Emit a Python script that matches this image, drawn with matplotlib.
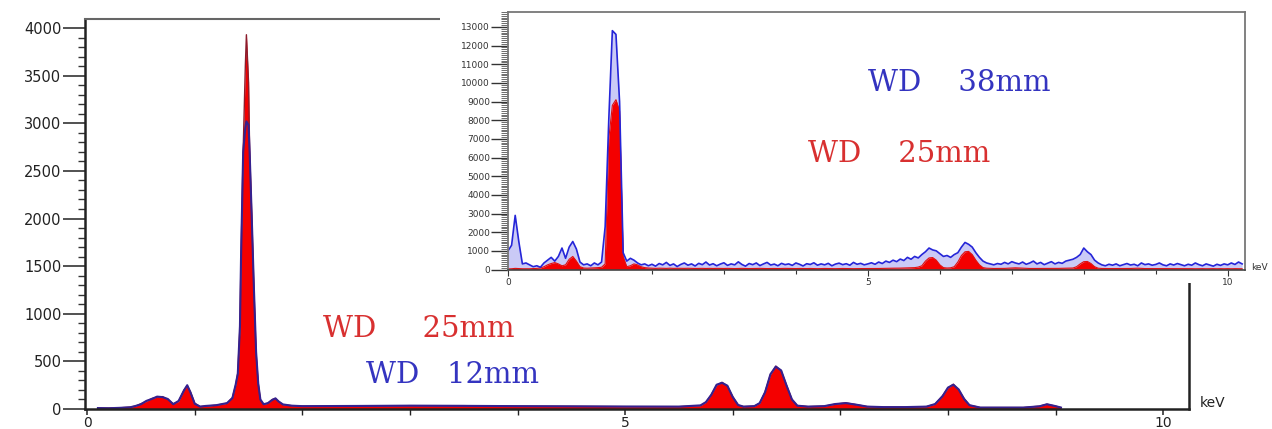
import numpy as np
import matplotlib.pyplot as plt
from matplotlib.ticker import MultipleLocator
from matplotlib.patches import Rectangle

# main spectrum: energy (keV) and counts for the two working distances
main_kev = [0.10, 0.20, 0.30, 0.40, 0.45, 0.50, 0.55, 0.60, 0.65, 0.70,
            0.75, 0.80, 0.85, 0.90, 0.93, 0.96, 1.00, 1.05, 1.10, 1.20,
            1.30, 1.35, 1.38, 1.40, 1.42, 1.43, 1.45, 1.47, 1.48, 1.50,
            1.51, 1.53, 1.55, 1.57, 1.59, 1.61, 1.64, 1.68, 1.72, 1.75,
            1.78, 1.82, 1.90, 2.00, 2.50, 3.00, 3.50, 4.00, 4.50, 5.00,
            5.50, 5.70, 5.75, 5.80, 5.85, 5.90, 5.95, 6.00, 6.05, 6.10,
            6.20, 6.25, 6.30, 6.35, 6.40, 6.45, 6.50, 6.55, 6.60, 6.70,
            6.85, 6.95, 7.05, 7.15, 7.25, 7.40, 7.60, 7.80, 7.88, 7.95,
            8.00, 8.05, 8.10, 8.15, 8.20, 8.30, 8.50, 8.70, 8.85, 8.92,
            9.00, 9.05]
main_wd25 = [10, 10, 12, 20, 30, 55, 80, 110, 125, 130,
             100, 55, 80, 200, 245, 180, 60, 25, 30, 40,
             60, 120, 250, 380, 860, 1600, 2720, 3600, 3930, 3430,
             2720, 2020, 1250, 590, 270, 95, 50, 60, 100, 110,
             80, 45, 35, 30, 30, 35, 35, 30, 28, 25,
             25, 35, 70, 150, 250, 280, 240, 130, 40, 25,
             30, 60, 180, 360, 450, 400, 250, 100, 35, 25,
             30, 50, 65, 45, 25, 20, 20, 25, 50, 140,
             220, 260, 200, 110, 40, 15, 15, 15, 30, 50,
             30, 15]
main_wd12 = [10, 8, 12, 18, 32, 50, 85, 105, 130, 125,
             105, 50, 85, 195, 250, 175, 55, 25, 32, 40,
             62, 115, 255, 370, 870, 1580, 2700, 2950, 3020, 2980,
             2700, 2000, 1260, 600, 265, 100, 50, 62, 95, 112,
             78, 48, 35, 30, 32, 35, 33, 30, 28, 26,
             25, 38, 72, 148, 255, 275, 245, 125, 42, 25,
             30, 62, 175, 365, 445, 405, 245, 100, 35, 25,
             30, 52, 62, 45, 25, 20, 20, 25, 52, 135,
             225, 255, 205, 105, 40, 15, 15, 15, 28, 50,
             30, 15]

# inset spectrum: channels every 0.05 keV, one row per keV
inset_step = 0.05
inset_wd38 = [
    1000, 1300, 2900, 1500, 300, 350, 250, 150, 200, 120, 350, 500, 650, 450, 700, 1150, 600, 1200, 1500, 1100,
    400, 250, 300, 200, 350, 250, 400, 2300, 8000, 12800, 12600, 9000, 900, 450, 600, 500, 350, 250, 300, 200,
    280, 180, 320, 250, 380, 220, 300, 160, 270, 350, 230, 300, 190, 330, 260, 400, 240, 310, 200, 290,
    360, 220, 300, 250, 410, 270, 180, 320, 260, 350, 210, 300, 380, 240, 290, 200, 330, 260, 300, 220,
    350, 280, 190, 310, 270, 360, 230, 300, 250, 330, 200, 290, 340, 260, 310, 230, 380, 280, 330, 250,
    300, 360, 280, 400, 320, 450, 380, 500, 420, 560, 480, 650, 550, 700, 620, 800, 950, 1150, 1050, 1000,
    850, 700, 750, 650, 800, 900, 1200, 1450, 1350, 1200, 900, 650, 450, 350, 300, 250, 320, 280, 380, 300,
    420, 350, 300, 400, 280, 350, 450, 300, 380, 260, 340, 420, 300, 380, 330, 450, 500, 550, 650, 800,
    1150, 950, 800, 500, 350, 250, 200, 280, 230, 300, 200, 260, 320, 240, 280, 200, 350, 260, 300, 230,
    270, 350, 250, 200, 300, 240, 320, 260, 200, 280, 230, 350, 260, 200, 300, 240, 180, 280, 220, 300,
    250, 350, 270, 400, 300]
inset_wd25 = [
    30, 40, 60, 50, 40, 40, 40, 50, 60, 80, 150, 250, 320, 370, 300, 200, 250, 550, 700, 450,
    150, 80, 70, 80, 90, 100, 120, 300, 7000, 8800, 9100, 8500, 700, 150, 200, 300, 250, 150, 100, 80,
    70, 60, 70, 65, 60, 70, 60, 65, 60, 60, 65, 60, 55, 60, 60, 55, 60, 55, 60, 55,
    55, 60, 55, 50, 55, 60, 55, 50, 55, 55, 60, 55, 50, 55, 55, 50, 55, 60, 55, 50,
    50, 55, 50, 50, 55, 50, 45, 50, 55, 50, 50, 45, 50, 55, 50, 50, 45, 50, 50, 50,
    50, 50, 55, 55, 60, 60, 65, 70, 70, 75, 80, 85, 90, 100, 130, 200, 450, 620, 640, 500,
    250, 100, 80, 90, 150, 400, 750, 950, 970, 800, 500, 250, 100, 70, 60, 55, 55, 60, 60, 70,
    80, 90, 80, 70, 60, 55, 55, 55, 55, 55, 55, 55, 60, 60, 65, 70, 75, 80, 150, 300,
    420, 430, 320, 150, 70, 55, 50, 50, 50, 50, 50, 50, 50, 55, 60, 70, 60, 50, 50, 50,
    50, 45, 50, 45, 45, 50, 45, 45, 50, 45, 45, 40, 45, 45, 40, 45, 45, 40, 45, 40,
    45, 40, 45, 40, 40]

W, H = 1272, 429
fig = plt.figure(figsize=(W / 100, H / 100), dpi=100)

# ---- main chart ----
ax = fig.add_axes([85 / W, (H - 409) / H, (1189 - 85) / W, (409 - 19) / H])
ax.fill_between(main_kev, main_wd25, color='#f40000', lw=0)
ax.plot(main_kev, main_wd25, color='#8c1c2c', lw=1.0)
ax.plot(main_kev, main_wd12, color='#35218f', lw=1.5)
ax.set_xlim(-0.02, 10.24)
ax.set_ylim(0, 4095)
ax.set_xticks([0, 5, 10])
ax.xaxis.set_minor_locator(MultipleLocator(1))
ax.yaxis.set_major_locator(MultipleLocator(500))
ax.yaxis.set_minor_locator(MultipleLocator(100))
ax.tick_params(axis='y', which='major', length=16, width=1.1, labelsize=10.5,
               pad=1, colors='#222222')
ax.tick_params(axis='y', which='minor', length=5, width=1.0, color='#333333')
ax.tick_params(axis='x', which='major', length=4, width=1.1, labelsize=10,
               pad=1, colors='#222222')
ax.tick_params(axis='x', which='minor', length=4, width=1.0, color='#222222')
for side in ['left', 'bottom', 'right']:
    ax.spines[side].set_linewidth(1.8)
    ax.spines[side].set_color('#222222')
ax.spines['top'].set_linewidth(1.5)
ax.spines['top'].set_color('#666666')

fig.text(1200 / W, 1 - 403 / H, 'keV', fontsize=10, color='#222222', va='center')
fig.text(323 / W, 1 - 337 / H, 'WD     25mm', family='DejaVu Serif', fontsize=21,
         color='#d83030', va='baseline')
fig.text(366 / W, 1 - 383 / H, 'WD   12mm', family='DejaVu Serif', fontsize=21,
         color='#3434c0', va='baseline')

# white backing under the inset and its labels
fig.add_artist(Rectangle((440 / W, 1 - 283 / H), (W - 440) / W, 283 / H,
                         transform=fig.transFigure, facecolor='white',
                         edgecolor='none', zorder=0.5))

# ---- inset ----
ins_kev = np.arange(len(inset_wd38)) * inset_step
ax2 = fig.add_axes([508 / W, (H - 269.5) / H, (1245 - 508) / W, (269.5 - 12) / H])
ax2.set_zorder(1)
ax2.fill_between(ins_kev, inset_wd38, color='#a8a8f0', alpha=0.6, lw=0)
ax2.fill_between(ins_kev, inset_wd25, color='#f40000', lw=0)
ax2.plot(ins_kev, inset_wd25, color='#e01010', lw=0.8)
ax2.plot(ins_kev, inset_wd38, color='#2525d8', lw=1.2)
ax2.set_xlim(0, 10.24)
ax2.set_ylim(0, 13800)
ax2.set_xticks([0, 5, 10])
ax2.xaxis.set_minor_locator(MultipleLocator(1))
ax2.yaxis.set_major_locator(MultipleLocator(1000))
ax2.yaxis.set_minor_locator(MultipleLocator(100))
ax2.tick_params(axis='y', which='major', length=12, width=1.0, labelsize=6.5,
                pad=1, colors='#333333')
ax2.tick_params(axis='y', which='minor', length=5, width=0.6, color='#555555')
ax2.tick_params(axis='x', which='major', length=4, width=0.8, labelsize=6.5,
                pad=2, colors='#333333')
ax2.tick_params(axis='x', which='minor', length=3, width=0.8, color='#333333')
for side in ['left', 'top', 'right']:
    ax2.spines[side].set_linewidth(1.3)
    ax2.spines[side].set_color('#777777')
ax2.spines['bottom'].set_linewidth(1.2)
ax2.spines['bottom'].set_color('#444444')

fig.text(1251 / W, 1 - 267 / H, 'keV', fontsize=6.5, color='#333333', va='center')
fig.text(868 / W, 1 - 91 / H, 'WD    38mm', family='DejaVu Serif', fontsize=21,
         color='#3434c0', va='baseline')
fig.text(808 / W, 1 - 162 / H, 'WD    25mm', family='DejaVu Serif', fontsize=21,
         color='#d83030', va='baseline')

fig.savefig('out.png', dpi=100)
